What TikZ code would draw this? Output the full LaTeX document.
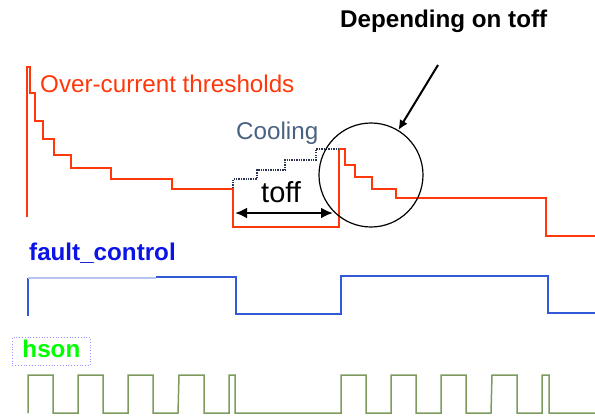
\documentclass[tikz,border=0pt]{standalone}
\usepackage{fontspec}
\setmainfont{Liberation Sans}
\usetikzlibrary{arrows.meta}
\definecolor{thrred}{RGB}{255,55,10}
\definecolor{coolgray}{RGB}{74,98,130}
\definecolor{cooldot}{RGB}{40,52,80}
\definecolor{fcblue}{RGB}{10,20,230}
\definecolor{fcline}{RGB}{50,90,215}
\definecolor{hsgreen}{RGB}{0,255,0}
\definecolor{hsline}{RGB}{125,155,95}
\definecolor{boxlav}{RGB}{150,150,255}
\newcommand{\lblsize}{\fontsize{24.2}{28}\selectfont}

\begin{document}
\begin{tikzpicture}[x=1pt,y=-1pt,
    thr/.style={draw=thrred,line width=1.4pt},
    cool/.style={draw=cooldot,line width=1.3pt,dash pattern=on 1.3pt off 1.1pt},
    fsig/.style={draw=fcline,line width=1.6pt},
    hsig/.style={draw=hsline,line width=1.5pt},
    lbl/.style={inner sep=0pt,anchor=base west,font=\lblsize}]
  \useasboundingbox (0,0) rectangle (595,416);
  % thresholds
  \draw[thr] (27,217) -- (27,67) -- (30,67) -- (30,93) -- (35,93) -- (35,121)
    -- (43,121) -- (43,139) -- (54,139) -- (54,155) -- (71,155) -- (71,168)
    -- (111,168) -- (111,179) -- (172,179) -- (172,189) -- (233,189) -- (233,227)
    -- (339,227) -- (339,149) -- (345,149) -- (345,165) -- (355,165) -- (355,177)
    -- (372,177) -- (372,189) -- (396,189) -- (396,198) -- (546,198) -- (546,236)
    -- (595,236);
  \node[lbl,text=thrred] (ocur) at (40,92) {Over-current thresholds};
  % cooling
  \draw[cool] (233,188) -- (233,179) -- (257,179) -- (257,170) -- (285,170)
    -- (285,160) -- (316,160) -- (316,149) -- (339,149);
  \node[lbl,text=coolgray] (cooling) at (236,139) {Cooling};
  \node[lbl,font=\fontsize{29}{32}\selectfont] (toff) at (261,202) {toff};
  \coordinate (offA) at (235,213);
  \coordinate (offB) at (333,213);
  \draw[{Latex[length=12pt,width=11pt]}-{Latex[length=12pt,width=11pt]},line width=2.6pt] (offA) -- (offB);
  % depending on toff
  \node[circle,draw,line width=1.2pt,minimum size=104pt,inner sep=0pt] (ring) at (371,175) {};
  \node[lbl,font=\lblsize\bfseries] (dep) at (340,27) {Depending on toff};
  \coordinate (depTail) at (438,65);
  \draw[-{Latex[length=10pt,width=9pt]},line width=2pt] (depTail) -- (ring);
  % fault_control
  \node[lbl,font=\lblsize\bfseries,text=fcblue] (fault) at (29,260) {fault\_control};
  \draw[fsig] (28,316) -- (28,278);
  \draw[fsig,draw=fcline!35] (28,278) -- (156,278);
  \draw[fsig] (156,277) -- (236,277) -- (236,314) -- (341,314) -- (341,276)
    -- (548,276) -- (548,313) -- (595,313);
  % hson
  \node[draw=boxlav,dotted,line width=0.8pt,inner xsep=0pt,inner ysep=0pt,
        text height=20pt,text depth=8pt,minimum width=78pt,anchor=north west,
        font=\lblsize\bfseries,text=hsgreen] (hson) at (12,337) {hson};
  \draw[hsig] (28,413) foreach \x in {28,78,128,179} { -- (\x,375) -- ++(25,0) -- ++(0,38) -- ++(25,0) }
    -- (229,375) -- (235,375) -- (235,413) -- (341,413)
    foreach \x in {341,391,441,492} { -- (\x,375) -- ++(25,0) -- ++(0,38) -- ++(25,0) }
    -- (542,375) -- (549,375) -- (549,413) -- (595,413);
\end{tikzpicture}
\end{document}
